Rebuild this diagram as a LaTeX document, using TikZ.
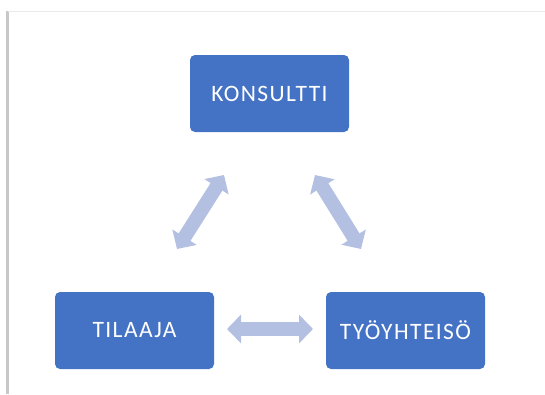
\documentclass[tikz,border=0pt]{standalone}
\usepackage{fontspec}
\setmainfont{Carlito}
\newfontfamily\boxfont[LetterSpace=6]{Carlito}
\usetikzlibrary{arrows.meta}
\definecolor{boxblue}{HTML}{4472C4}
\definecolor{arrowblue}{HTML}{B4C0E2}
\definecolor{frame}{HTML}{C8C8C8}
\tikzset{
  rolebox/.style={fill=boxblue, rounded corners=5pt, minimum width=159pt, minimum height=77pt,
    text=white, font=\boxfont\fontsize{23.5}{26}\selectfont, inner sep=0pt},
  dblarrow/.style={draw=arrowblue, line width=14pt,
    {Triangle[width=28pt,length=14pt]}-{Triangle[width=28pt,length=14pt]}}
}
\begin{document}
\begin{tikzpicture}[x=1pt,y=-1pt]
\useasboundingbox (0,0) rectangle (545,394);
\draw[frame, line width=2.5pt] (7.5,11) -- (7.5,394);
\draw[frame!40, line width=0.6pt] (7.5,11) -- (545,11);
\node[rolebox] (k) at (269.5,93.5) {KONSULTTI};
\node[rolebox] (ti) at (134.5,330.5) {TILAAJA};
\node[rolebox] (ty) at (405.5,330.5) {TYÖYHTEISÖ};
\coordinate (a1) at (224,175);
\coordinate (a2) at (177,249);
\coordinate (b1) at (315,175);
\coordinate (b2) at (361,249);
\coordinate (c1) at (227,329);
\coordinate (c2) at (313,329);
\draw[dblarrow] (a1) -- (a2);
\draw[dblarrow] (b1) -- (b2);
\draw[dblarrow] (c1) -- (c2);
\end{tikzpicture}
\end{document}
